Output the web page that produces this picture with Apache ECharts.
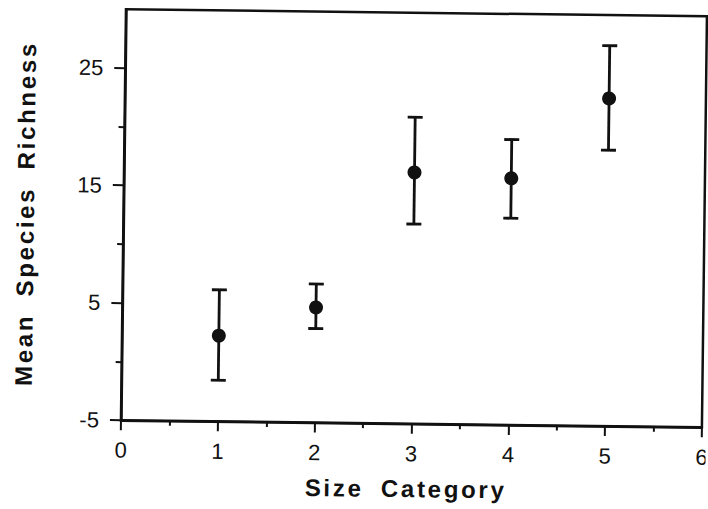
<!DOCTYPE html>
<html>
<head>
<meta charset="utf-8">
<script src="https://cdn.jsdelivr.net/npm/echarts@6/dist/echarts.min.js"></script>
<style>
  html, body { margin: 0; padding: 0; background: #fff; }
  #wrap { width: 708px; height: 509px; transform: rotate(0.7deg); transform-origin: 50% 50%; }
  #chart { width: 708px; height: 509px; }
  #chart text[style*="bold"] { letter-spacing: 2.7px; word-spacing: 8px; }
</style>
</head>
<body>
<div id="wrap"><div id="chart"></div></div>
<script>
// Data
const sizeCategory = [1, 2, 3, 4, 5];
const meanRichness = [2.3, 4.8, 16.4, 16.0, 22.9];
const upperLimit   = [6.2, 6.8, 21.1, 19.3, 27.4];
const lowerLimit   = [-1.5, 3.0, 12.0, 12.6, 18.5];
const yLabelTicks  = [-5, 5, 15, 25];
const yMinorTicks  = [0, 10, 20];
const xTitle = 'Size Category';
const yTitle = 'Mean Species Richness';

const points = sizeCategory.map((x, i) => [x, meanRichness[i]]);
const bars = sizeCategory.map((x, i) => [x, lowerLimit[i], upperLimit[i]]);

const ink = '#111';
const chart = echarts.init(document.getElementById('chart'), null, { renderer: 'svg' });
chart.setOption({
  backgroundColor: '#fff',
  animation: false,
  grid: { left: 123, right: 4, top: 12, bottom: 86, outerBoundsMode: 'none', containLabel: false,
          show: true, borderColor: ink, borderWidth: 2.5, backgroundColor: 'transparent' },
  xAxis: {
    type: 'value', min: 0, max: 6, interval: 1,
    name: xTitle, nameLocation: 'middle', nameGap: 53,
    nameTextStyle: { fontFamily: 'Liberation Sans', fontWeight: 'bold', fontSize: 24, color: ink, padding: [0, 10, 0, 0] },
    axisLine: { show: true, onZero: false, lineStyle: { color: ink, width: 2.5 } },
    axisTick: { show: true, length: 10, lineStyle: { color: ink, width: 2 } },
    minorTick: { show: true, splitNumber: 2, length: 5, lineStyle: { color: ink, width: 2 } },
    axisLabel: { fontFamily: 'Liberation Sans', fontSize: 22, color: '#111', margin: 19 },
    splitLine: { show: false }, minorSplitLine: { show: false }
  },
  yAxis: [
    {
      type: 'value', min: -5, max: 30, interval: 5, position: 'left',
      name: yTitle, nameLocation: 'middle', nameGap: 86,
      nameTextStyle: { fontFamily: 'Liberation Sans', fontWeight: 'bold', fontSize: 24, color: ink },
      axisLine: { show: true, onZero: false, lineStyle: { color: ink, width: 2.5 } },
      axisTick: { show: true, length: 11, customValues: yLabelTicks, lineStyle: { color: ink, width: 2 } },
      axisLabel: { fontFamily: 'Liberation Sans', fontSize: 22, color: '#111', margin: 22, customValues: yLabelTicks },
      splitLine: { show: false }
    },
    {
      type: 'value', min: -5, max: 30, interval: 5, position: 'left',
      axisLine: { show: false, onZero: false },
      axisTick: { show: true, length: 6, customValues: yMinorTicks, lineStyle: { color: ink, width: 2 } },
      axisLabel: { show: false },
      splitLine: { show: false }
    }
  ],
  series: [
    {
      type: 'custom',
      xAxisIndex: 0, yAxisIndex: 0,
      data: bars,
      encode: { x: 0, y: [1, 2] },
      renderItem: function (params, api) {
        const x = api.value(0);
        const pLo = api.coord([x, api.value(1)]);
        const pHi = api.coord([x, api.value(2)]);
        const w = 7.5;
        const st = { stroke: ink, lineWidth: 2.8 };
        return {
          type: 'group',
          children: [
            { type: 'line', shape: { x1: pLo[0], y1: pLo[1], x2: pHi[0], y2: pHi[1] }, style: st },
            { type: 'line', shape: { x1: pHi[0] - w, y1: pHi[1], x2: pHi[0] + w, y2: pHi[1] }, style: st },
            { type: 'line', shape: { x1: pLo[0] - w, y1: pLo[1], x2: pLo[0] + w, y2: pLo[1] }, style: st }
          ]
        };
      }
    },
    {
      type: 'scatter',
      xAxisIndex: 0, yAxisIndex: 0,
      data: points,
      symbol: 'circle', symbolSize: 14,
      itemStyle: { color: ink, opacity: 1 }
    }
  ]
});
</script>
</body>
</html>
